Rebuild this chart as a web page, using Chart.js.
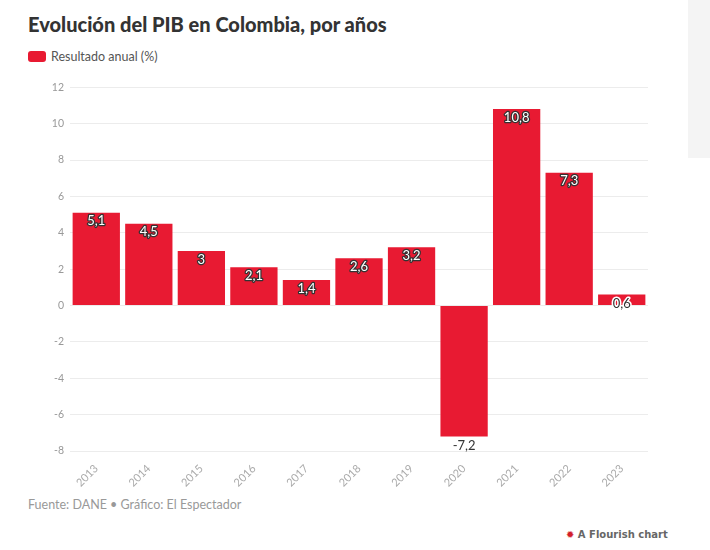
<!DOCTYPE html>
<html>
<head>
<meta charset="utf-8">
<script src="https://cdn.jsdelivr.net/npm/chart.js@4"></script>
<style>
  body { margin: 0; background: #fff; font-family: "Lato", sans-serif; }
  #wrap { position: relative; width: 710px; height: 550px; overflow: hidden; }
  #side { position: absolute; left: 688px; top: 0; width: 22px; height: 158px; background: #f4f4f4; }
  #title { position: absolute; left: 28px; top: 12px; font-size: 20px; font-weight: 900; color: #333; }
  #legend { position: absolute; left: 28px; top: 49px; font-size: 12.5px; color: #555; }
  #legend span { display: inline-block; width: 18px; height: 11px; background: #e81a32; border-radius: 3px; vertical-align: -1px; margin-right: 5px; }
  #src { position: absolute; left: 28px; top: 497px; font-size: 12.5px; color: #999; }
  #fl { position: absolute; left: 566px; top: 529px; font-size: 10px; font-weight: bold; color: #666; font-family: "DejaVu Sans", sans-serif; }
  #fl b { color: #d21e2b; }
  #box { position: absolute; left: 0; top: 75px; width: 660px; height: 416px; }
</style>
</head>
<body>
<div id="wrap">
  <div id="side"></div>
  <div id="title">Evolución del PIB en Colombia, por años</div>
  <div id="legend"><span></span>Resultado anual (%)</div>
  <div id="box"><canvas id="canva"></canvas></div>
  <div id="src">Fuente: DANE • Gráfico: El Espectador</div>
  <div id="fl"><b>✹</b> A Flourish chart</div>
</div>
<script>
const years = ["2013", "2014", "2015", "2016", "2017", "2018", "2019", "2020", "2021", "2022", "2023"];
const growth = [5.1, 4.5, 3, 2.1, 1.4, 2.6, 3.2, -7.2, 10.8, 7.3, 0.6];
const yTicks = [-8, -6, -4, -2, 0, 2, 4, 6, 8, 10, 12];

const canvas = document.getElementById("canva");
const ctx = canvas.getContext("2d");

// value labels drawn on top of each bar
const valueLabels = {
  id: "valueLabels",
  afterDatasetsDraw(chart) {
    const c = chart.ctx;
    const meta = chart.getDatasetMeta(0);
    c.save();
    c.font = "13px Lato, sans-serif";
    c.textAlign = "center";
    c.textBaseline = "top";
    c.lineJoin = "round";
    meta.data.forEach((bar, i) => {
      const v = growth[i];
      const txt = String(v).replace(".", ",");
      if (v < 0) {
        c.fillStyle = "#333";
        c.fillText(txt, bar.x, bar.y + 3);
      } else if (bar.base - bar.y < 18) {
        c.lineWidth = 3;
        c.strokeStyle = "#fff";
        c.strokeText(txt, bar.x, bar.y + 3);
        c.fillStyle = "#333";
        c.fillText(txt, bar.x, bar.y + 3);
      } else {
        c.lineWidth = 2.5;
        c.strokeStyle = "#333";
        c.strokeText(txt, bar.x, bar.y + 2);
        c.fillStyle = "#fff";
        c.fillText(txt, bar.x, bar.y + 2);
      }
    });
    c.restore();
  },
};

let myChart = new Chart(ctx, {
  type: "bar",
  data: {
    labels: years,
    datasets: [
      {
        label: "Resultado anual (%)",
        data: growth,
        backgroundColor: "#e81a32",
        borderWidth: 0,
        categoryPercentage: 1,
        barPercentage: 0.9,
      },
    ],
  },
  options: {
    responsive: true,
    maintainAspectRatio: false,
    animation: false,
    layout: { padding: { top: 6, right: 12, left: 0, bottom: 0 } },
    plugins: {
      legend: { display: false },
      tooltip: { enabled: false },
    },
    scales: {
      x: {
        grid: { display: false },
        border: { display: false },
        ticks: {
          color: "#aaa",
          font: { family: "Lato", size: 11 },
          maxRotation: 45,
          minRotation: 45,
          padding: 3,
        },
        afterFit(scale) { scale.height = 40; },
      },
      y: {
        min: -8,
        max: 12,
        afterBuildTicks(scale) { scale.ticks = yTicks.map((v) => ({ value: v })); },
        grid: { color: "#ececec", drawTicks: false },
        border: { display: false },
        ticks: {
          color: "#999",
          font: { family: "Lato", size: 10.5 },
          padding: 6,
        },
        afterFit(scale) { scale.width = 70; },
      },
    },
  },
  plugins: [valueLabels],
});
</script>
</body>
</html>
